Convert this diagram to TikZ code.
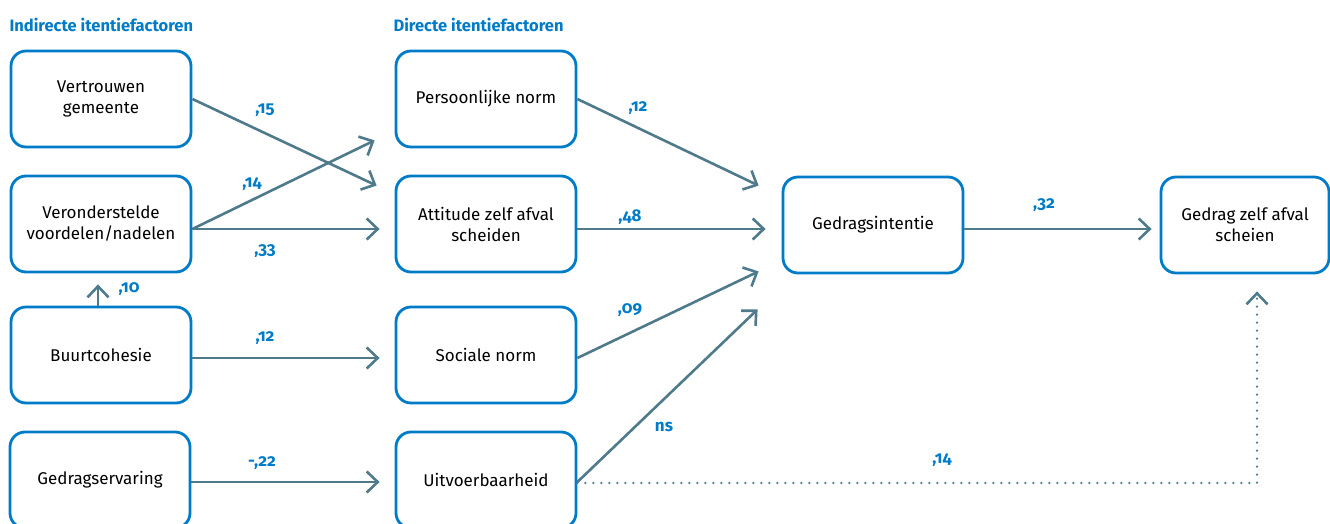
\documentclass[tikz,border=0pt]{standalone}
\usepackage{fontspec}
\setmainfont{Fira Sans}
\newfontfamily\numfont[Numbers=OldStyle]{Fira Sans}
\usetikzlibrary{arrows.meta,calc}
\definecolor{rijksblauw}{HTML}{007BC7}
\definecolor{pijlgrijs}{HTML}{4F7A8B}
\begin{document}
\begin{tikzpicture}[x=1pt, y=-1pt,
  factor/.style={draw=rijksblauw, line width=2.8pt, rounded corners=15pt, align=center, minimum width=180pt, minimum height=96pt, text=black, font=\fontsize{17}{21}\selectfont},
  coef/.style={text=rijksblauw, font=\numfont\bfseries\fontsize{17}{20}\selectfont},
  kop/.style={text=rijksblauw, anchor=west, font=\bfseries\fontsize{16.5}{19}\selectfont},
  pijl/.style={draw=pijlgrijs, line width=2.6pt, -{Straight Barb[length=11pt,width=21pt]}}]
\clip (0,0) rectangle (1330,524);
% kopjes
\node[kop] (indirect) at (6,25) {Indirecte itentiefactoren};
\node[kop] (direct) at (390,25) {Directe itentiefactoren};
% indirecte factoren
\node[factor] (vertrouwen) at (101,99) {Vertrouwen\\gemeente};
\node[factor] (voordelen) at (101,224) {Veronderstelde\\voordelen/nadelen};
\node[factor] (buurt) at (101,355) {Buurtcohesie};
\node[factor] (ervaring) at (100,480) {Gedragservaring};
% directe factoren
\node[factor] (persoonlijk) at (486,99) {Persoonlijke norm};
\node[factor] (attitude) at (486,224) {Attitude zelf afval\\scheiden};
\node[factor] (sociaal) at (486,355) {Sociale norm};
\node[factor] (uitvoer) at (486,480) {Uitvoerbaarheid};
% intentie en gedrag
\node[factor] (intentie) at (873,225) {Gedragsintentie};
\node[factor, minimum width=168pt] (gedrag) at (1245,225) {Gedrag zelf afval\\scheien};
% pijlen
\draw[pijl] (vertrouwen.east) -- ($(attitude.north west)+(-18,11)$);
\draw[pijl] ([yshift=-5pt]voordelen.east) -- ($(persoonlijk.south west)+(-20,-8)$);
\draw[pijl, shorten >=15pt] ([yshift=-5pt]voordelen.east) -- ([yshift=-5pt]attitude.west);
\draw[pijl, shorten >=11pt] ([xshift=-3pt]buurt.north) -- ([xshift=-3pt]voordelen.south);
\draw[pijl, shorten >=15pt] ([yshift=-3pt]buurt.east) -- ([yshift=-3pt]sociaal.west);
\draw[pijl, shorten >=15pt] ([yshift=-2pt]ervaring.east) -- ([yshift=-2pt]uitvoer.west);
\draw[pijl] (persoonlijk.east) -- ($(intentie.north west)+(-23,10)$);
\draw[pijl, shorten >=16pt] ([yshift=-5pt]attitude.east) -- ([yshift=-4pt]intentie.west);
\draw[pijl] ([yshift=-3pt]sociaal.east) -- ($(intentie.south west)+(-23,-3)$);
\draw[pijl] ([yshift=-2pt]uitvoer.east) -- ($(intentie.south west)+(-24,35)$);
\draw[pijl, shorten >=8pt] ([yshift=-4pt]intentie.east) -- ([yshift=-4pt]gedrag.west);
\draw[pijl, dash pattern=on 0pt off 8pt, line cap=round] ([yshift=-3pt]uitvoer.east) -| ($(gedrag.south)+(12,17)$);
% coefficienten
\node[coef] (c15) at (265,110) {,15};
\node[coef] (c14a) at (252,184) {,14};
\node[coef] (c33) at (265,251) {,33};
\node[coef] (c10) at (129,289) {,10};
\node[coef] (c12a) at (265,338) {,12};
\node[coef] (c22) at (262,463) {-,22};
\node[coef] (c12b) at (638,108) {,12};
\node[coef] (c48) at (630,217) {,48};
\node[coef] (c09) at (630,310) {,09};
\node[coef] (ns) at (664,427) {ns};
\node[coef] (c32) at (1044,205) {,32};
\node[coef] (c14b) at (942,460) {,14};
\end{tikzpicture}
\end{document}
